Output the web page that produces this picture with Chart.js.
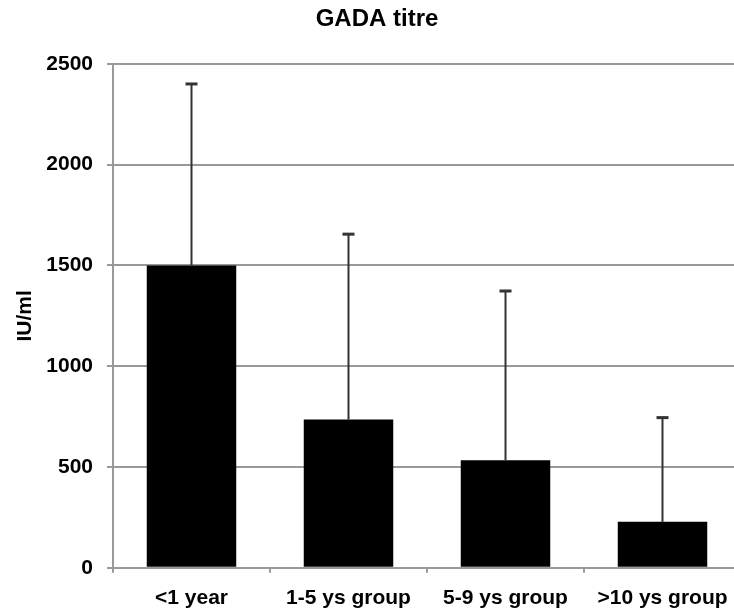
<!DOCTYPE html>
<html>
<head>
<meta charset="utf-8">
<script src="https://cdn.jsdelivr.net/npm/chart.js@4/dist/chart.umd.min.js"></script>
<style>
  html, body { margin: 0; padding: 0; background: #fff; overflow: hidden; }
  #clip { width: 734px; height: 609px; overflow: hidden; position: relative; }
  #wrap { width: 752px; height: 624px; position: absolute; left: 0; top: 0; }
</style>
</head>
<body>
<div id="clip"><div id="wrap"><canvas id="c"></canvas></div></div>
<script>
// ── Data ─────────────────────────────────────────────────────
const groups   = ['<1 year', '1-5 ys group', '5-9 ys group', '>10 ys group'];
const means    = [1500, 735, 533, 228];
const upperSD  = [2400, 1655, 1373, 745];   // top of each error bar
const yTicks   = [0, 500, 1000, 1500, 2000, 2500];

const FONT = "'Liberation Sans', Arial, sans-serif";

// draws the upper error whiskers through the y scale
const errorBars = {
    id: 'errorBars',
    afterDatasetsDraw(chart) {
        const { ctx, scales: { y } } = chart;
        const meta = chart.getDatasetMeta(0);
        ctx.save();
        ctx.strokeStyle = '#333';
        meta.data.forEach((bar, i) => {
            const x = bar.x;
            const yTop = y.getPixelForValue(upperSD[i]);
            ctx.lineWidth = 2;
            ctx.beginPath();
            ctx.moveTo(x, bar.y);
            ctx.lineTo(x, yTop);
            ctx.stroke();
            ctx.lineWidth = 3;
            ctx.beginPath();
            ctx.moveTo(x - 6, yTop);
            ctx.lineTo(x + 6, yTop);
            ctx.stroke();
        });
        ctx.restore();
    }
};

new Chart(document.getElementById('c'), {
    type: 'bar',
    data: {
        labels: groups,
        datasets: [{
            label: 'GADA titre',
            data: means,
            backgroundColor: '#000',
            borderColor: '#000',
            borderWidth: 0,
            barPercentage: 0.57,
            categoryPercentage: 1,
        }],
    },
    options: {
        responsive: true,
        maintainAspectRatio: false,
        animation: false,
        devicePixelRatio: 1,
        layout: { padding: { left: 13, right: 11, top: 0, bottom: 0 } },
        scales: {
            x: {
                grid: {
                    offset: true,
                    drawOnChartArea: false,
                    drawTicks: true,
                    tickLength: 5,
                    color: '#999',
                    lineWidth: 2,
                },
                border: { color: '#999', width: 2 },
                ticks: {
                    color: '#000',
                    font: { family: FONT, size: 21, weight: 'bold' },
                    padding: 13,
                    maxRotation: 0,
                },
            },
            y: {
                min: 0,
                max: 2500,
                afterBuildTicks: axis => { axis.ticks = yTicks.map(v => ({ value: v })); },
                afterFit: axis => { axis.width = 100; },
                grid: { color: '#999', lineWidth: 2, tickLength: 6 },
                border: { color: '#999', width: 2 },
                ticks: {
                    color: '#000',
                    font: { family: FONT, size: 21, weight: 'bold' },
                    padding: 14,
                    callback: v => String(v),
                },
                title: {
                    display: true,
                    text: 'IU/ml',
                    color: '#000',
                    font: { family: FONT, size: 21, weight: 'bold' },
                    padding: { top: 0, bottom: 10 },
                },
            },
        },
        plugins: {
            legend: { display: false },
            tooltip: { enabled: false },
            title: {
                display: true,
                text: 'GADA titre',
                color: '#000',
                font: { family: FONT, size: 24, weight: 'bold' },
                padding: { top: 5, bottom: 30 },
            },
        },
    },
    plugins: [errorBars],
});
</script>
</body>
</html>
